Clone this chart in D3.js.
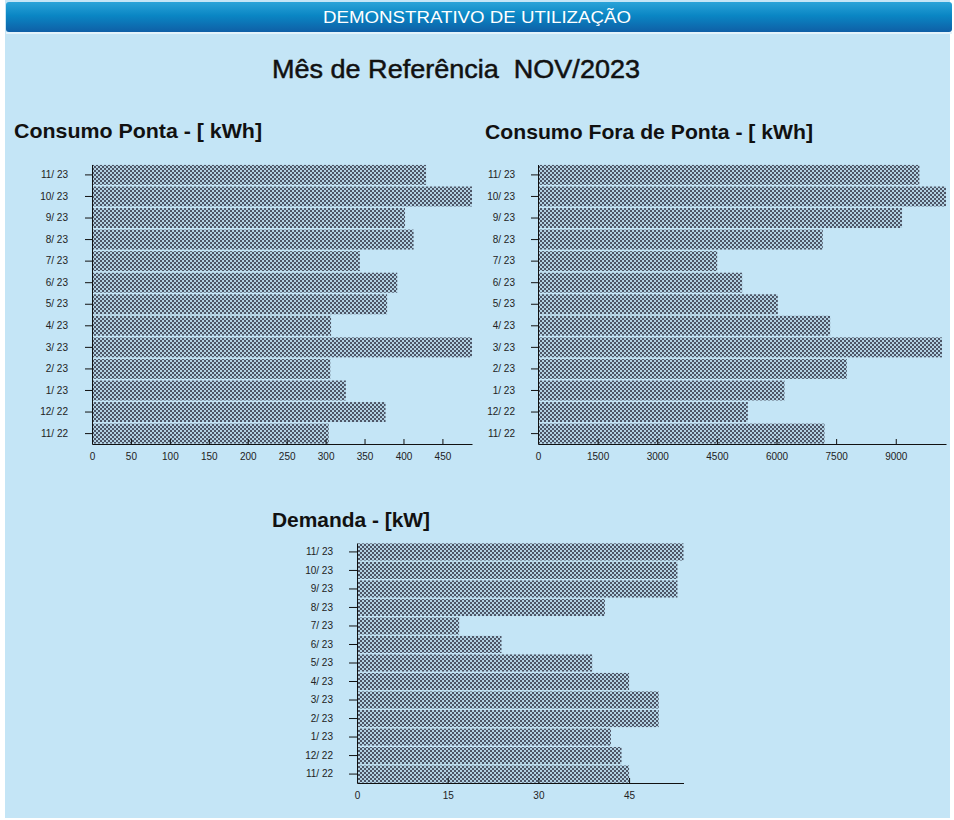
<!DOCTYPE html>
<html>
<head>
<meta charset="utf-8">
<script src="https://cdn.jsdelivr.net/npm/d3@7"></script>
<style>
  html, body { margin: 0; padding: 0; background: #ffffff; }
  svg { display: block; }
  text { font-family: "Liberation Sans", Arial, sans-serif; }
</style>
</head>
<body>
<svg id="chart" width="954" height="820"></svg>
<script>
// ---------- data ----------
const months = ["11/ 23","10/ 23","9/ 23","8/ 23","7/ 23","6/ 23","5/ 23","4/ 23","3/ 23","2/ 23","1/ 23","12/ 22","11/ 22"];
const pontaValues = [429, 488, 402, 413, 344, 392, 379, 307, 488, 306, 326, 377, 304];
const foraPontaValues = [9595, 10264, 9158, 7164, 4508, 5136, 6033, 7349, 10164, 7768, 6201, 5279, 7207];
const demandaValues = [54, 53, 53, 41, 16.9, 23.9, 38.9, 45, 49.9, 49.9, 42, 43.75, 45];
const pontaTicks = [0, 50, 100, 150, 200, 250, 300, 350, 400, 450];
const foraPontaTicks = [0, 1500, 3000, 4500, 6000, 7500, 9000];
const demandaTicks = [0, 15, 30, 45];
const pontaMax = 488, foraPontaMax = 10264, demandaMax = 54;

const headerText = "DEMONSTRATIVO DE UTILIZAÇÃO";
const mainTitle = "Mês de Referência  NOV/2023";
const titles = ["Consumo Ponta - [ kWh]", "Consumo Fora de Ponta - [ kWh]", "Demanda - [kW]"];

// ---------- drawing ----------
const svg = d3.select("#chart");
const defs = svg.append("defs");

const grad = defs.append("linearGradient").attr("id", "hdr").attr("x1", 0).attr("y1", 0).attr("x2", 0).attr("y2", 1);
grad.append("stop").attr("offset", "0%").attr("stop-color", "#2aa3d8");
grad.append("stop").attr("offset", "45%").attr("stop-color", "#0a86c4");
grad.append("stop").attr("offset", "100%").attr("stop-color", "#0f5fa6");

const pat = defs.append("pattern").attr("id", "dots").attr("patternUnits", "userSpaceOnUse")
  .attr("width", 4).attr("height", 4);
pat.append("rect").attr("width", 4).attr("height", 4).attr("fill", "#b3d2e3");
pat.append("rect").attr("x", 0).attr("y", 0).attr("width", 2).attr("height", 2).attr("fill", "#4d5566");
pat.append("rect").attr("x", 2).attr("y", 2).attr("width", 2).attr("height", 2).attr("fill", "#4d5566");

// background
svg.append("rect").attr("x", 5).attr("y", 0).attr("width", 945).attr("height", 818).attr("fill", "#c4e5f6");
// header bar
svg.append("rect").attr("x", 6).attr("y", 2).attr("width", 946).attr("height", 30).attr("rx", 3).attr("fill", "url(#hdr)");
svg.append("rect").attr("x", 6).attr("y", 32).attr("width", 946).attr("height", 2).attr("fill", "#e4f3fb");
svg.append("text").attr("x", 477).attr("y", 23).attr("text-anchor", "middle")
  .attr("fill", "#ffffff").attr("font-size", 17)
  .attr("textLength", 308).attr("lengthAdjust", "spacingAndGlyphs")
  .text(headerText);

// main title
svg.append("text").attr("x", 272).attr("y", 78)
  .attr("fill", "#111").attr("font-size", 26)
  .attr("stroke", "#111").attr("stroke-width", 0.5)
  .attr("textLength", 368).attr("lengthAdjust", "spacingAndGlyphs")
  .style("white-space", "pre")
  .text(mainTitle);

function barChart(opt) {
  const x = d3.scaleLinear().domain([0, opt.max]).range([opt.x0, opt.x1]);
  const y = d3.scaleBand().domain(months).range([opt.y0, opt.y1]).paddingInner(0.075).paddingOuter(0.02);
  const g = svg.append("g");

  g.append("text").attr("x", opt.tx).attr("y", opt.ty)
    .attr("font-size", 21).attr("font-weight", "bold").attr("fill", "#111")
    .attr("textLength", opt.tw).attr("lengthAdjust", "spacingAndGlyphs")
    .text(opt.title);

  g.selectAll("rect.bar").data(opt.values).join("rect")
    .attr("class", "bar")
    .attr("x", x(0))
    .attr("y", (d, i) => y(months[i]))
    .attr("width", d => x(d) - x(0))
    .attr("height", y.bandwidth())
    .attr("fill", "url(#dots)");

  const ya = g.append("g").attr("transform", `translate(${x(0)},0)`)
    .call(d3.axisLeft(y).tickSize(opt.yTick).tickSizeOuter(0).tickPadding(opt.yPad));
  ya.select(".domain").attr("stroke", "#111");
  ya.selectAll(".tick line").attr("stroke", "#111");
  ya.selectAll("text").attr("font-size", 10).attr("fill", "#222").attr("font-family", "Liberation Sans, Arial, sans-serif");

  const xa = g.append("g").attr("transform", `translate(0,${opt.y1})`)
    .call(d3.axisBottom(x).tickValues(opt.ticks).tickFormat(d3.format("d")).tickSize(-5).tickSizeOuter(0).tickPadding(9));
  xa.select(".domain").attr("stroke", "#111");
  xa.selectAll(".tick line").attr("stroke", "#111");
  xa.selectAll("text").attr("font-size", 10).attr("fill", "#222").attr("font-family", "Liberation Sans, Arial, sans-serif");
}

barChart({ values: pontaValues, ticks: pontaTicks, max: pontaMax, title: titles[0],
  x0: 92, x1: 472, y0: 164.5, y1: 444, yTick: 7, yPad: 17, tx: 14, ty: 138, tw: 248 });
barChart({ values: foraPontaValues, ticks: foraPontaTicks, max: foraPontaMax, title: titles[1],
  x0: 538, x1: 946, y0: 164.5, y1: 444, yTick: 7, yPad: 16, tx: 485, ty: 139, tw: 328 });
barChart({ values: demandaValues, ticks: demandaTicks, max: demandaMax, title: titles[2],
  x0: 357, x1: 683.5, y0: 543, y1: 783, yTick: 8, yPad: 16, tx: 272, ty: 527, tw: 158 });
</script>
</body>
</html>
